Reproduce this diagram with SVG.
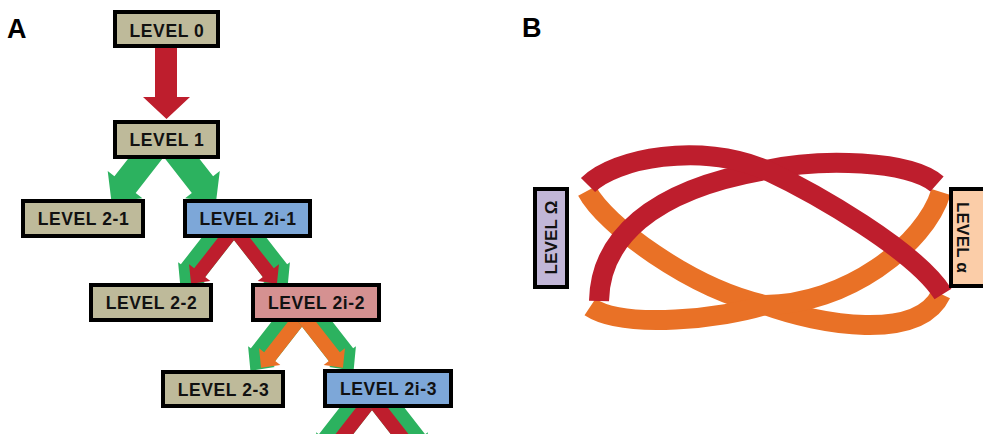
<svg xmlns="http://www.w3.org/2000/svg" xmlns:xlink="http://www.w3.org/1999/xlink" width="983" height="434" viewBox="0 0 983 434">
<style>
.box{stroke:#000;stroke-width:4}
.tan{fill:#BEBA9A}
.blue{fill:#7DA7D8}
.pink{fill:#D59191}
.lav{fill:#C1B6D7}
.peach{fill:#FBCDA8}
.t{font-family:"Liberation Sans",Arial,sans-serif;font-weight:bold;font-size:17.5px;letter-spacing:0.6px;fill:#111;text-anchor:middle}
.tv{font-family:"Liberation Sans",Arial,sans-serif;font-weight:bold;font-size:17px;letter-spacing:0.2px;fill:#111;text-anchor:middle}
.panel{font-family:"Liberation Sans",Arial,sans-serif;font-weight:bold;font-size:27px;fill:#000}
.green{fill:#2CB25F}
.red{fill:#BE1E2D}
.orange{fill:#E97126}
.rs{fill:none;stroke:#BE1E2D;stroke-width:20}
.os{fill:none;stroke:#E97126;stroke-width:20}
</style>
<defs>
<polygon id="big" points="-66,-13.5 -22,-13.5 -22,-22 0,0 -22,22 -22,13.5 -66,13.5"/>
<polygon id="pg" points="-76,-13.5 -18,-13.5 -18,-17 0,0 -18,17 -18,13.5 -76,13.5"/>
<polygon id="pi" points="-76,-13.5 -23,-13.5 -23,-20 -9,-6.5 -23,7 -23,0.5 -76,0.5"/>
<g id="pairR"><use xlink:href="#pg" class="green"/><use xlink:href="#pi" class="red"/></g>
<g id="pairO"><use xlink:href="#pg" class="green"/><use xlink:href="#pi" class="orange"/></g>
</defs>

<text class="panel" x="7" y="38">A</text>
<text class="panel" x="522" y="37">B</text>

<g id="connectors">
  <polygon class="red" points="155,46 177,46 177,97 190,97 166.5,119 143,97 155,97"/>
  <use xlink:href="#big" class="green" transform="translate(111.5,202) rotate(128)"/>
  <use xlink:href="#big" class="green" transform="translate(216,202) scale(-1,1) rotate(128)"/>
  <use xlink:href="#pairR" transform="translate(180.4,286.8) rotate(128)"/>
  <use xlink:href="#pairR" transform="translate(287.6,286.8) scale(-1,1) rotate(128)"/>
  <use xlink:href="#pairO" transform="translate(250.4,370.8) rotate(128)"/>
  <use xlink:href="#pairO" transform="translate(353.6,370.8) scale(-1,1) rotate(128)"/>
  <use xlink:href="#pairR" transform="translate(318.4,456.8) rotate(128)"/>
  <use xlink:href="#pairR" transform="translate(425.6,456.8) scale(-1,1) rotate(128)"/>

  <path class="os" d="M587,191 C605,225 690,288 765,305 C820,325 918,342 941,294"/>
  <path class="os" d="M941,192 C925,245 845,305 765,305 C725,318 625,330 590,307"/>
  <path class="rs" d="M599,301 C600,240 650,190 766,170 C820,158 910,160 937,184"/>
  <path class="rs" d="M588,185 C615,158 700,142 766,170 C815,193 915,250 943,294"/>
</g>

<g id="level0"><rect class="box tan" x="115" y="12" width="103" height="34"/><text class="t" x="167" y="36.5">LEVEL 0</text></g>
<g id="level1"><rect class="box tan" x="115" y="122" width="103" height="35"/><text class="t" x="167" y="146">LEVEL 1</text></g>
<g id="level2-1"><rect class="box tan" x="23" y="201" width="120" height="35"/><text class="t" x="83.5" y="225">LEVEL 2-1</text></g>
<g id="level2i-1"><rect class="box blue" x="185" y="201" width="125" height="35"/><text class="t" x="248" y="225">LEVEL 2i-1</text></g>
<g id="level2-2"><rect class="box tan" x="91" y="285" width="120" height="35"/><text class="t" x="151.5" y="309">LEVEL 2-2</text></g>
<g id="level2i-2"><rect class="box pink" x="253" y="285" width="126" height="35"/><text class="t" x="316.5" y="309">LEVEL 2i-2</text></g>
<g id="level2-3"><rect class="box tan" x="163" y="372" width="120" height="34"/><text class="t" x="223.5" y="395.5">LEVEL 2-3</text></g>
<g id="level2i-3"><rect class="box blue" x="325" y="371" width="126" height="35"/><text class="t" x="388.5" y="395">LEVEL 2i-3</text></g>

<g id="levelOmega"><rect class="box lav" x="535" y="189" width="32" height="98"/><text class="tv" transform="translate(557,237.5) rotate(-90)">LEVEL Ω</text></g>
<g id="levelAlpha"><rect class="box peach" x="951" y="189" width="36" height="97"/><text class="tv" transform="translate(957,237.5) rotate(90)">LEVEL α</text></g>
</svg>
